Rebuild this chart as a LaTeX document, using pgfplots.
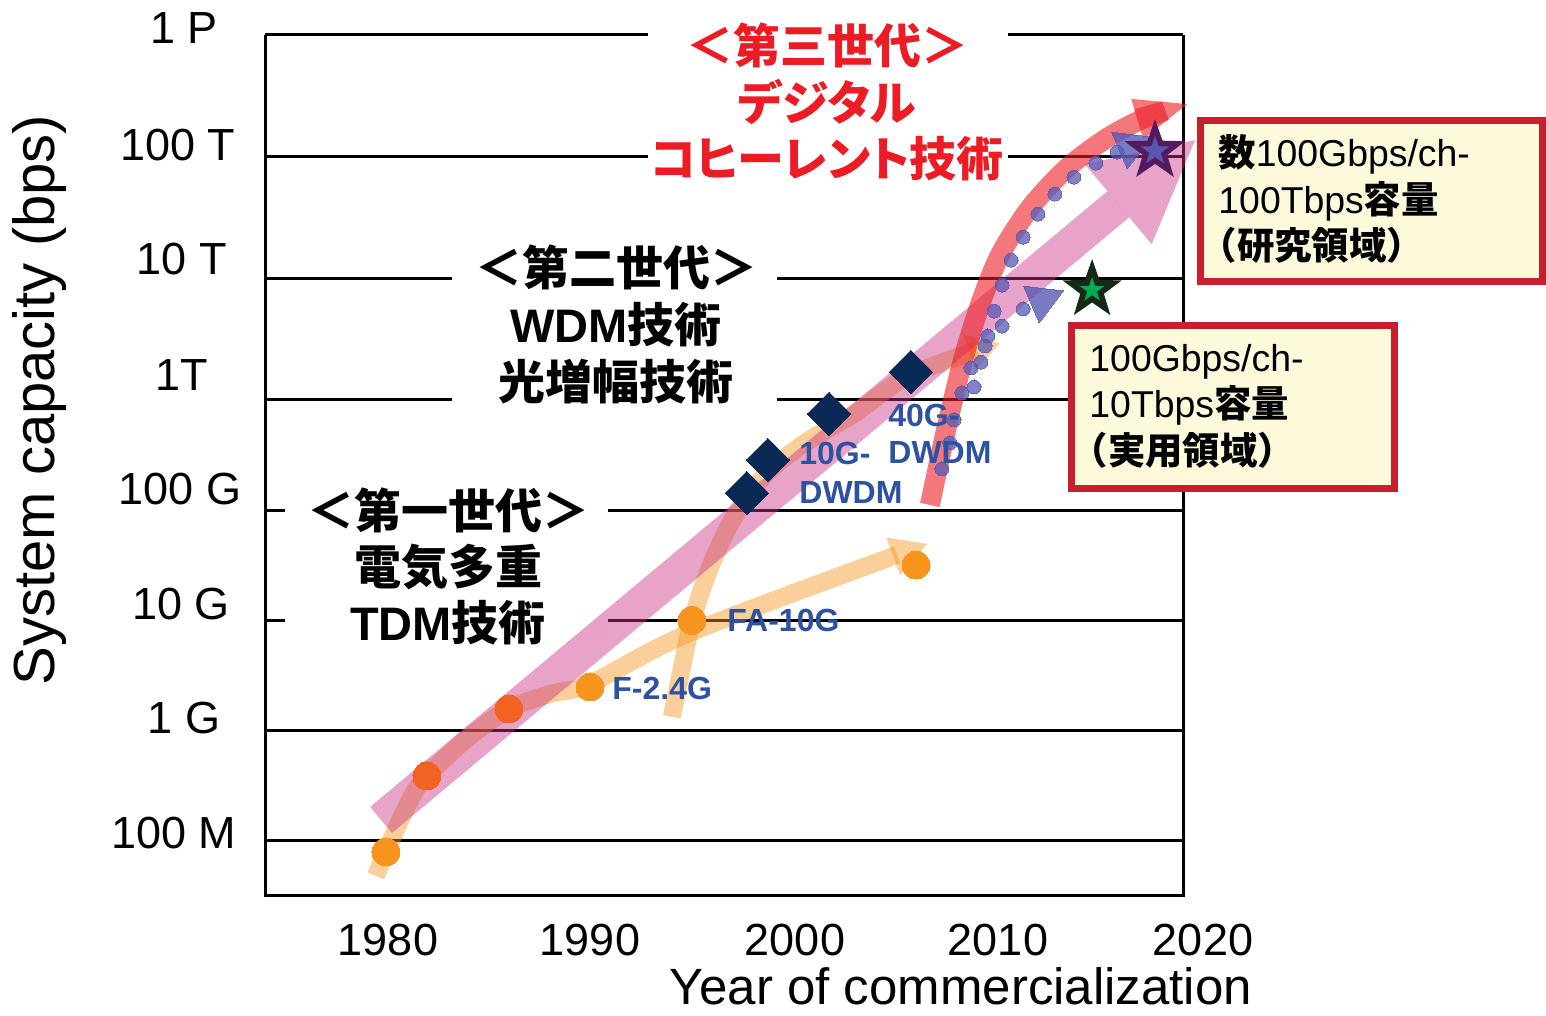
\documentclass[border=0pt]{standalone}
\usepackage{fontspec}
\setmainfont{Liberation Sans}
\newfontfamily\cjk{Noto Sans CJK JP}
\newfontfamily\cjkp{Noto Sans CJK JP}[RawFeature=+palt]
\usepackage{pgfplots}
\pgfplotsset{compat=1.18}
\usetikzlibrary{arrows.meta}
\newcommand{\J}[1]{{\cjk #1}}
\newcommand{\JP}[1]{{\cjkp #1}}
\definecolor{orC}{RGB}{247,148,29}
\definecolor{redorC}{RGB}{241,98,35}
\definecolor{navyC}{RGB}{10,42,85}
\definecolor{pinkA}{RGB}{202,50,133}
\definecolor{redA}{RGB}{237,28,36}
\definecolor{dotC}{RGB}{88,90,180}
\definecolor{blueL}{RGB}{46,82,162}
\definecolor{boxR}{RGB}{200,30,45}
\definecolor{boxF}{RGB}{252,250,218}
\definecolor{starP}{RGB}{85,25,95}
\definecolor{starB}{RGB}{88,88,175}
\definecolor{starK}{RGB}{22,40,22}
\definecolor{starG}{RGB}{0,170,80}
\pgfdeclareplotmark{fivestar}{%
 \pgfpathmoveto{\pgfpointpolar{90}{\pgfplotmarksize}}%
 \pgfpathlineto{\pgfpointpolar{126}{0.40\pgfplotmarksize}}%
 \pgfpathlineto{\pgfpointpolar{162}{\pgfplotmarksize}}%
 \pgfpathlineto{\pgfpointpolar{198}{0.40\pgfplotmarksize}}%
 \pgfpathlineto{\pgfpointpolar{234}{\pgfplotmarksize}}%
 \pgfpathlineto{\pgfpointpolar{270}{0.40\pgfplotmarksize}}%
 \pgfpathlineto{\pgfpointpolar{306}{\pgfplotmarksize}}%
 \pgfpathlineto{\pgfpointpolar{342}{0.40\pgfplotmarksize}}%
 \pgfpathlineto{\pgfpointpolar{18}{\pgfplotmarksize}}%
 \pgfpathlineto{\pgfpointpolar{54}{0.40\pgfplotmarksize}}%
 \pgfpathclose\pgfusepathqfill}
\begin{document}
\begin{tikzpicture}
\begin{axis}[
  at={(0,0)}, anchor=south west, scale only axis,
  width=459pt, height=430.5pt,
  xmin=1974.08, xmax=2019.02,
  ymin=7.5, ymax=15,
  y coord trafo/.code={\pgfmathparse{(#1<=12) ? #1 : 12+(#1-12)*1.1039}},
  y coord inv trafo/.code={\pgfmathparse{(#1<=12) ? #1 : 12+(#1-12)/1.1039}},
  axis line style={draw=none},
  xtick=\empty, ytick={8,9,10,11,12,13,14,15}, yticklabels={},
  major tick length=0pt,
  ymajorgrids, grid style={black, line width=1.5pt},
  clip=false,
]
% gaps behind the generation labels
\fill[white] (axis cs:1992.83,13.726) rectangle (axis cs:2010.45,15.2);
\fill[white] (axis cs:1983.23,11.837) rectangle (axis cs:1999.14,13.134);
\fill[white] (axis cs:1975.06,9.823) rectangle (axis cs:1990.87,11.184);
% frame
\draw[line width=1.5pt] (rel axis cs:0,1) -- (rel axis cs:0,0) -- (rel axis cs:1,0) -- (rel axis cs:1,1);
% orange trend arrows
\addplot[draw=orC, opacity=0.45, line width=9pt, smooth, no markers, -{Triangle[width=20pt,length=18pt,line width=0pt]}] coordinates {
(1979.51,7.683) (1980.00,7.900) (1981.18,8.372) (1982.01,8.590) (1984.01,8.934) (1986.02,9.197) (1988.03,9.333) (1989.99,9.424) (1994.98,9.896) (2006.49,10.694)};
\addplot[draw=orC, opacity=0.45, line width=9pt, smooth, no markers, -{Triangle[width=19pt,length=16pt,line width=0pt]}] coordinates {
(1994.00,9.125) (1994.49,9.569) (1994.98,9.995) (1995.86,10.480) (1996.99,10.920) (1998.56,11.320) (2000.51,11.610) (2002.96,11.880) (2005.66,12.205) (2010.06,12.468)};
% WDM diamonds
\addplot[only marks, color=navyC, mark=square*, mark size=7.7pt, mark options={rotate=45, fill=navyC, line width=0pt}] coordinates {
(1997.67,11.156) (1998.70,11.456) (2001.69,11.873) (2005.70,12.230)};
% pink overall arrow
\addplot[draw=pinkA, opacity=0.45, line width=17pt, no markers, -{Triangle[width=52pt,length=50pt,line width=0pt]}] coordinates {
(1979.76,8.190) (2019.61,14.136)};
% red digital coherent arrow
\addplot[draw=redA, opacity=0.6, line width=10pt, smooth, no markers, -{Triangle[width=21pt,length=26pt,line width=0pt]}] coordinates {
(2006.63,11.048) (2007.42,11.728) (2008.25,12.329) (2009.08,12.781) (2010.06,13.191) (2011.53,13.578) (2013.34,13.906) (2015.30,14.153) (2017.16,14.317) (2019.22,14.432)};
% TDM circles
\addplot[only marks, color=orC, mark=*, mark size=7pt, mark options={fill=orC, line width=0pt}] coordinates {
(1980.00,7.900) (1989.99,9.397) (1994.98,10.000) (2005.95,10.503)};
\addplot[only marks, color=redorC, mark=*, mark size=7pt, mark options={fill=redorC, line width=0pt}] coordinates {
(1982.01,8.590) (1986.02,9.197)};
% dotted trends
\addplot[only marks, color=dotC, opacity=0.75, mark=*, mark size=3.5pt, mark options={fill=dotC, line width=0pt}] coordinates {
(2007.22,11.374) (2007.61,11.610) (2007.81,11.820) (2008.20,12.058) (2008.64,12.263) (2009.47,12.526) (2009.77,12.731) (2010.16,12.945) (2010.60,13.150) (2011.19,13.339) (2011.92,13.528) (2012.75,13.693) (2013.68,13.832) (2014.76,13.947) (2015.79,14.038)};
\addplot[only marks, color=dotC, opacity=0.75, mark=*, mark size=3.5pt, mark options={fill=dotC, line width=0pt}] coordinates {
(2008.79,12.107) (2009.13,12.312) (2009.33,12.444) (2010.16,12.608) (2011.19,12.748)};
\addplot[only marks, color=dotC, opacity=0.8, mark=triangle*, mark size=11.5pt, mark options={rotate=-67, fill=dotC, line width=0pt}] coordinates {
(2012.12,12.822) (2016.43,14.087)};
% stars
\addplot[only marks, mark=fivestar, mark size=16pt, mark options={fill=starP}] coordinates {(2017.65,14.046)};
\addplot[only marks, mark=fivestar, mark size=7.5pt, mark options={fill=starB}] coordinates {(2017.65,14.046)};
\addplot[only marks, mark=fivestar, mark size=15.5pt, mark options={fill=starK}] coordinates {(2014.57,12.904)};
\addplot[only marks, mark=fivestar, mark size=6.5pt, mark options={fill=starG}] coordinates {(2014.57,12.904)};
\end{axis}
\begin{scope}[x=0.5pt, y=-0.5pt, shift={(-132.5pt,448pt)}]
% boxes
\draw[boxR, fill=boxF, line width=3.5pt] (1200.5,120.5) rectangle (1542.5,281.5);
\draw[boxR, fill=boxF, line width=3.5pt] (1071.5,325.5) rectangle (1394.5,488.5);
\node[anchor=west, align=left, inner sep=0pt, font=\fontsize{18.7pt}{23.3pt}\selectfont] at (1218,199)
  {\J{\bfseries 数}100Gbps/ch-\\100Tbps\J{\bfseries 容量}\\\hspace*{-0.5em}\J{\bfseries （研究領域）}};
\node[anchor=west, align=left, inner sep=0pt, font=\fontsize{18.7pt}{23.3pt}\selectfont] at (1089,406)
  {100Gbps/ch-\\10Tbps\J{\bfseries 容量}\\\hspace*{-0.5em}\J{\bfseries （実用領域）}};
% generation labels
\node[align=center, inner sep=0pt, font=\fontsize{23.5pt}{28pt}\selectfont\bfseries] at (448,566)
  {\J{＜第一世代＞}\\\J{電気多重}\\TDM\J{技術}};
\node[align=center, inner sep=0pt, font=\fontsize{23.5pt}{28.5pt}\selectfont\bfseries] at (616,324)
  {\J{＜第二世代＞}\\WDM\J{技術}\\\J{光増幅技術}};
\node[align=center, inner sep=0pt, text=redA, font=\fontsize{23.5pt}{28.3pt}\selectfont\bfseries] at (827,102)
  {\J{＜第三世代＞}\\\JP{デジタル}\\\JP{コヒーレント技術}};
% series labels
\begin{scope}[every node/.style={anchor=west, inner sep=0pt, text=blueL, font=\fontsize{16pt}{19pt}\selectfont\bfseries}]
\node at (612,688) {F-2.4G};
\node at (727,620) {FA-10G};
\node at (799,453) {10G-};
\node at (799,492) {DWDM};
\node at (888,415) {40G-};
\node at (888,453) {DWDM};
\end{scope}
% tick labels
\begin{scope}[every node/.style={inner sep=0pt, font=\fontsize{22.5pt}{27pt}\selectfont}]
\node at (388,940) {1980};
\node at (590,940) {1990};
\node at (795,940) {2000};
\node at (998,940) {2010};
\node at (1203,940) {2020};
\node at (184,28) {1 P};
\node at (178,145) {100 T};
\node at (182,259) {10 T};
\node at (182,375) {1T};
\node at (180,489) {100 G};
\node at (181,604) {10 G};
\node at (184,718) {1 G};
\node at (174,833) {100 M};
\end{scope}
\node[rotate=90, inner sep=0pt, font=\fontsize{29pt}{34pt}\selectfont] at (40,400) {System capacity (bps)};
\node[inner sep=0pt, font=\fontsize{25.5pt}{30pt}\selectfont] at (961,986) {Year of commercialization};
\end{scope}
\pgfresetboundingbox
\path[use as bounding box] (-132.5pt,-60pt) rectangle (640.5pt,448pt);
\end{tikzpicture}
\end{document}
